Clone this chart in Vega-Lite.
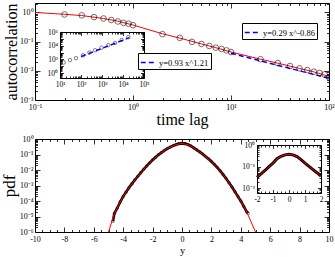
{
"$schema":"https://vega.github.io/schema/vega-lite/v6.json",
"autosize":{"type":"none"},
"padding":{"left":35,"top":3,"right":6,"bottom":25},
"width":294,"height":229,
"datasets":{
"acf":[{"t":0.2,"c":0.85},{"t":0.3,"c":0.79},{"t":0.4,"c":0.69},{"t":0.5,"c":0.62},{"t":0.6,"c":0.55},{"t":0.7,"c":0.49},{"t":0.8,"c":0.44},{"t":0.9,"c":0.41},{"t":1,"c":0.365},{"t":2,"c":0.18},{"t":3,"c":0.134},{"t":4,"c":0.098},{"t":5,"c":0.083},{"t":6,"c":0.071},{"t":7,"c":0.062},{"t":8,"c":0.056},{"t":9,"c":0.05},{"t":10,"c":0.044},{"t":20,"c":0.025},{"t":30,"c":0.0184},{"t":40,"c":0.0146},{"t":50,"c":0.0121},{"t":60,"c":0.0106},{"t":70,"c":0.0093},{"t":80,"c":0.0084},{"t":90,"c":0.0075},{"t":100,"c":0.006}],
"model":[{"t":0.1,"c":1.0},{"t":0.2,"c":0.86},{"t":0.3,"c":0.78},{"t":0.5,"c":0.62},{"t":0.7,"c":0.5},{"t":1,"c":0.37},{"t":2,"c":0.185},{"t":3,"c":0.132},{"t":5,"c":0.083},{"t":7,"c":0.062},{"t":10,"c":0.044},{"t":20,"c":0.025},{"t":30,"c":0.0183},{"t":50,"c":0.012},{"t":70,"c":0.0092},{"t":100,"c":0.0064}],
"fit1":[{"t":10,"c":0.04,"fit":"y=0.29 x^-0.86"},{"t":100,"c":0.0055,"fit":"y=0.29 x^-0.86"}],
"ins":[{"t":15,"c":35},{"t":30,"c":80},{"t":58,"c":150},{"t":125,"c":400},{"t":250,"c":1000},{"t":470,"c":2200},{"t":950,"c":5000},{"t":2000,"c":12000},{"t":4200,"c":25000},{"t":8700,"c":70000},{"t":18000,"c":180000}],
"fit2":[{"t":100,"c":250,"fit":"y=0.93 x^1.21"},{"t":20000,"c":150000,"fit":"y=0.93 x^1.21"}],
"pdfPts":[{"s":-4.7,"p":5e-6},{"s":-4.6,"p":1.58e-5},{"s":-4.4,"p":3.55e-5},{"s":-4.2,"p":8.9e-5},{"s":-4.0,"p":2.0e-4},{"s":-3.8,"p":3.8e-4},{"s":-3.6,"p":7.4e-4},{"s":-3.4,"p":1.32e-3},{"s":-3.2,"p":2.34e-3},{"s":-3.0,"p":3.98e-3},{"s":-2.8,"p":6.76e-3},{"s":-2.6,"p":0.0112},{"s":-2.4,"p":0.0182},{"s":-2.2,"p":0.0288},{"s":-2.0,"p":0.0447},{"s":-1.8,"p":0.066},{"s":-1.6,"p":0.0955},{"s":-1.4,"p":0.132},{"s":-1.2,"p":0.182},{"s":-1.0,"p":0.24},{"s":-0.8,"p":0.302},{"s":-0.6,"p":0.372},{"s":-0.4,"p":0.437},{"s":-0.2,"p":0.501},{"s":0,"p":0.525},{"s":0.2,"p":0.501},{"s":0.4,"p":0.437},{"s":0.6,"p":0.355},{"s":0.8,"p":0.269},{"s":1.0,"p":0.2},{"s":1.2,"p":0.148},{"s":1.4,"p":0.107},{"s":1.6,"p":0.0741},{"s":1.8,"p":0.0525},{"s":2.0,"p":0.0355},{"s":2.2,"p":0.0229},{"s":2.4,"p":0.0145},{"s":2.6,"p":0.0087},{"s":2.8,"p":0.005},{"s":3.0,"p":2.82e-3},{"s":3.2,"p":1.51e-3},{"s":3.4,"p":7.9e-4},{"s":3.6,"p":3.98e-4},{"s":3.8,"p":2.0e-4},{"s":4.0,"p":1.0e-4},{"s":4.2,"p":4.5e-5},{"s":4.4,"p":2.0e-5},{"s":4.5,"p":1.6e-5}],
"pdfRed":[{"s":-5.0,"p":1e-6},{"s":-4.6,"p":1.58e-5},{"s":-4.0,"p":2.0e-4},{"s":-3.5,"p":1.02e-3},{"s":-3.0,"p":3.98e-3},{"s":-2.5,"p":0.0141},{"s":-2.0,"p":0.0447},{"s":-1.5,"p":0.112},{"s":-1.0,"p":0.24},{"s":-0.5,"p":0.403},{"s":0,"p":0.525},{"s":0.5,"p":0.398},{"s":1.0,"p":0.2},{"s":1.5,"p":0.089},{"s":2.0,"p":0.0355},{"s":2.5,"p":0.0112},{"s":3.0,"p":2.82e-3},{"s":3.5,"p":5.6e-4},{"s":4.0,"p":1.0e-4},{"s":4.4,"p":2.0e-5},{"s":5.0,"p":1e-6}],
"insPdf":[{"s":-2,"p":0.032},{"s":-1.75,"p":0.046},{"s":-1.5,"p":0.066},{"s":-1.25,"p":0.1},{"s":-1.0,"p":0.145},{"s":-0.75,"p":0.23},{"s":-0.5,"p":0.3},{"s":-0.25,"p":0.35},{"s":0,"p":0.37},{"s":0.25,"p":0.35},{"s":0.5,"p":0.29},{"s":0.75,"p":0.21},{"s":1.0,"p":0.145},{"s":1.25,"p":0.103},{"s":1.5,"p":0.073},{"s":1.75,"p":0.052},{"s":2,"p":0.036}]
},
"resolve":{"scale":{"x":"independent","y":"independent","color":"independent"}},
"layer":[
{"data":{"name":"model"},"mark":{"type":"line","color":"#ff0000","strokeWidth":1,"clip":true},
 "encoding":{
  "x":{"field":"t","type":"quantitative","scale":{"type":"log","domain":[0.1,100],"nice":false},
   "axis":{"orient":"bottom","offset":-132,"title":"time lag","titleFontSize":16,"titlePadding":-2,"values":[0.1,0.2,0.3,0.4,0.5,0.6,0.7,0.8,0.9,1,2,3,4,5,6,7,8,9,10,20,30,40,50,60,70,80,90,100],
    "tickSize":{"condition":{"test":"abs(log(datum.value)/LN10 - round(log(datum.value)/LN10)) < 0.001","value":-5},"value":-2.5},
    "labelPadding":8,
    "labelExpr":"abs(log(datum.value)/LN10 - round(log(datum.value)/LN10)) < 0.001 ? '10' + (round(log(datum.value)/LN10) < 0 ? '⁻' : '') + ['⁰','¹','²','³','⁴','⁵','⁶','⁷','⁸','⁹'][abs(round(log(datum.value)/LN10))] : ''"}},
  "y":{"field":"c","type":"quantitative","scale":{"type":"log","domain":[0.001,2.1],"nice":false,"range":[97,0]},
   "axis":{"orient":"left","title":"autocorrelation","titleFontSize":16,"titlePadding":0,"values":[0.001,0.002,0.003,0.004,0.005,0.006,0.007,0.008,0.009,0.01,0.02,0.03,0.04,0.05,0.06,0.07,0.08,0.09,0.1,0.2,0.3,0.4,0.5,0.6,0.7,0.8,0.9,1,2],
    "tickSize":{"condition":{"test":"abs(log(datum.value)/LN10 - round(log(datum.value)/LN10)) < 0.001","value":-5},"value":-2.5},
    "labelPadding":7,
    "labelExpr":"abs(log(datum.value)/LN10 - round(log(datum.value)/LN10)) < 0.001 ? '10' + (round(log(datum.value)/LN10) < 0 ? '⁻' : '') + ['⁰','¹','²','³','⁴','⁵','⁶','⁷','⁸','⁹'][abs(round(log(datum.value)/LN10))] : ''"}}}},
{"data":{"name":"fit1"},"mark":{"type":"line","strokeDash":[5,3],"strokeWidth":1.5,"clip":true},
 "encoding":{
  "x":{"field":"t","type":"quantitative","scale":{"type":"log","domain":[0.1,100],"nice":false},"axis":null},
  "y":{"field":"c","type":"quantitative","scale":{"type":"log","domain":[0.001,2.1],"nice":false,"range":[97,0]},"axis":null},
  "color":{"field":"fit","type":"nominal","scale":{"range":["#0000ff"]},
   "legend":{"orient":"none","legendX":207,"legendY":20,"title":null,"strokeColor":"black","fillColor":"white","padding":2,"symbolType":"stroke","symbolStrokeWidth":1.5,"symbolDash":[5,3],"symbolSize":180,"labelFont":"Liberation Serif","labelFontSize":8.5,"labelColor":"black","cornerRadius":0}}}},
{"data":{"name":"acf"},"mark":{"type":"point","shape":"circle","size":32,"color":"black","strokeWidth":0.8,"filled":false,"clip":true},
 "encoding":{
  "x":{"field":"t","type":"quantitative","scale":{"type":"log","domain":[0.1,100],"nice":false},
   "axis":{"orient":"top","labels":false,"title":null,"values":[0.1,0.2,0.3,0.4,0.5,0.6,0.7,0.8,0.9,1,2,3,4,5,6,7,8,9,10,20,30,40,50,60,70,80,90,100],
    "tickSize":{"condition":{"test":"abs(log(datum.value)/LN10 - round(log(datum.value)/LN10)) < 0.001","value":-5},"value":-2.5}}},
  "y":{"field":"c","type":"quantitative","scale":{"type":"log","domain":[0.001,2.1],"nice":false,"range":[97,0]},
   "axis":{"orient":"right","labels":false,"title":null,"values":[0.001,0.002,0.003,0.004,0.005,0.006,0.007,0.008,0.009,0.01,0.02,0.03,0.04,0.05,0.06,0.07,0.08,0.09,0.1,0.2,0.3,0.4,0.5,0.6,0.7,0.8,0.9,1,2],
    "tickSize":{"condition":{"test":"abs(log(datum.value)/LN10 - round(log(datum.value)/LN10)) < 0.001","value":-5},"value":-2.5}}}}},
{"data":{"name":"ins"},"mark":{"type":"point","shape":"circle","size":12,"color":"black","strokeWidth":0.7,"filled":false},
 "encoding":{
  "x":{"field":"t","type":"quantitative","scale":{"type":"log","domain":[10,100000],"nice":false,"range":[25,109]},
   "axis":{"orient":"bottom","offset":-154,"title":null,"labelFontSize":7.5,"values":[10,20,30,40,50,60,70,80,90,100,200,300,400,500,600,700,800,900,1000,2000,3000,4000,5000,6000,7000,8000,9000,10000,20000,30000,40000,50000,60000,70000,80000,90000,100000],
    "tickSize":{"condition":{"test":"abs(log(datum.value)/LN10 - round(log(datum.value)/LN10)) < 0.001","value":-3.5},"value":-2},
    "labelPadding":6,
    "labelExpr":"abs(log(datum.value)/LN10 - round(log(datum.value)/LN10)) < 0.001 ? '10' + (round(log(datum.value)/LN10) < 0 ? '⁻' : '') + ['⁰','¹','²','³','⁴','⁵','⁶','⁷','⁸','⁹'][abs(round(log(datum.value)/LN10))] : ''"}},
  "y":{"field":"c","type":"quantitative","scale":{"type":"log","domain":[0.19,1000000],"nice":false,"range":[75,29]},
   "axis":{"orient":"left","offset":-25,"title":null,"labelFontSize":7.5,"values":[0.2,0.3,0.4,0.5,0.6,0.7,0.8,0.9,1,2,3,4,5,6,7,8,9,10,20,30,40,50,60,70,80,90,100,200,300,400,500,600,700,800,900,1000,2000,3000,4000,5000,6000,7000,8000,9000,10000,20000,30000,40000,50000,60000,70000,80000,90000,100000,200000,300000,400000,500000,600000,700000,800000,900000,1000000],
    "tickSize":{"condition":{"test":"abs(log(datum.value)/LN10 - round(log(datum.value)/LN10)) < 0.001","value":-3.5},"value":-2},
    "labelPadding":6,
    "labelExpr":"abs(log(datum.value)/LN10 - round(log(datum.value)/LN10)) < 0.001 && round(log(datum.value)/LN10) % 2 == 0 ? '10' + ['⁰','¹','²','³','⁴','⁵','⁶','⁷','⁸','⁹'][abs(round(log(datum.value)/LN10))] : ''"}}}},
{"data":{"name":"fit2"},"mark":{"type":"line","strokeDash":[5,3],"strokeWidth":1.5},
 "encoding":{
  "x":{"field":"t","type":"quantitative","scale":{"type":"log","domain":[10,100000],"nice":false,"range":[25,109]},
   "axis":{"orient":"top","offset":-29,"title":null,"labels":false,"values":[10,20,30,40,50,60,70,80,90,100,200,300,400,500,600,700,800,900,1000,2000,3000,4000,5000,6000,7000,8000,9000,10000,20000,30000,40000,50000,60000,70000,80000,90000,100000],
    "tickSize":{"condition":{"test":"abs(log(datum.value)/LN10 - round(log(datum.value)/LN10)) < 0.001","value":-3.5},"value":-2}}},
  "y":{"field":"c","type":"quantitative","scale":{"type":"log","domain":[0.19,1000000],"nice":false,"range":[75,29]},
   "axis":{"orient":"right","offset":-185,"title":null,"labels":false,"values":[0.2,0.3,0.4,0.5,0.6,0.7,0.8,0.9,1,2,3,4,5,6,7,8,9,10,20,30,40,50,60,70,80,90,100,200,300,400,500,600,700,800,900,1000,2000,3000,4000,5000,6000,7000,8000,9000,10000,20000,30000,40000,50000,60000,70000,80000,90000,100000,200000,300000,400000,500000,600000,700000,800000,900000,1000000],
    "tickSize":{"condition":{"test":"abs(log(datum.value)/LN10 - round(log(datum.value)/LN10)) < 0.001","value":-3.5},"value":-2}}},
  "color":{"field":"fit","type":"nominal","scale":{"range":["#0000ff"]},
   "legend":{"orient":"none","legendX":103,"legendY":50,"title":null,"strokeColor":"black","fillColor":"white","padding":2,"symbolType":"stroke","symbolStrokeWidth":1.5,"symbolDash":[5,3],"symbolSize":180,"labelFont":"Liberation Serif","labelFontSize":8.5,"labelColor":"black","cornerRadius":0}}}},
{"data":{"name":"pdfPts"},"mark":{"type":"line","color":"black","strokeWidth":2.6,"clip":true},
 "encoding":{
  "x":{"field":"s","type":"quantitative","scale":{"domain":[-10,10],"nice":false,"zero":false},
   "axis":{"orient":"bottom","title":"y","titleFontSize":10.5,"titlePadding":-0.5,"values":[-10,-9.5,-9,-8.5,-8,-7.5,-7,-6.5,-6,-5.5,-5,-4.5,-4,-3.5,-3,-2.5,-2,-1.5,-1,-0.5,0,0.5,1,1.5,2,2.5,3,3.5,4,4.5,5,5.5,6,6.5,7,7.5,8,8.5,9,9.5,10],
    "tickSize":{"condition":{"test":"abs(datum.value/2 - round(datum.value/2)) < 0.001","value":-5},"value":-2.5},
    "labelPadding":8,
    "labelExpr":"abs(datum.value/2 - round(datum.value/2)) < 0.001 ? '' + datum.value : ''"}},
  "y":{"field":"p","type":"quantitative","scale":{"type":"log","domain":[0.000001,1],"nice":false,"range":[229,136]},
   "axis":{"orient":"left","title":"pdf","titleFontSize":17,"titlePadding":1,"values":[1e-6,2e-6,3e-6,4e-6,5e-6,6e-6,7e-6,8e-6,9e-6,1e-5,2e-5,3e-5,4e-5,5e-5,6e-5,7e-5,8e-5,9e-5,1e-4,2e-4,3e-4,4e-4,5e-4,6e-4,7e-4,8e-4,9e-4,0.001,0.002,0.003,0.004,0.005,0.006,0.007,0.008,0.009,0.01,0.02,0.03,0.04,0.05,0.06,0.07,0.08,0.09,0.1,0.2,0.3,0.4,0.5,0.6,0.7,0.8,0.9,1],
    "tickSize":{"condition":{"test":"abs(log(datum.value)/LN10 - round(log(datum.value)/LN10)) < 0.001","value":-5},"value":-2.5},
    "labelPadding":7,
    "labelExpr":"abs(log(datum.value)/LN10 - round(log(datum.value)/LN10)) < 0.001 ? '10' + (round(log(datum.value)/LN10) < 0 ? '⁻' : '') + ['⁰','¹','²','³','⁴','⁵','⁶','⁷','⁸','⁹'][abs(round(log(datum.value)/LN10))] : ''"}}}},
{"data":{"name":"pdfPts"},"mark":{"type":"point","shape":"circle","size":8,"color":"black","strokeWidth":0.6,"filled":false,"clip":true},
 "encoding":{
  "x":{"field":"s","type":"quantitative","scale":{"domain":[-10,10],"nice":false,"zero":false},
   "axis":{"orient":"top","offset":-136,"labels":false,"title":null,"values":[-10,-9.5,-9,-8.5,-8,-7.5,-7,-6.5,-6,-5.5,-5,-4.5,-4,-3.5,-3,-2.5,-2,-1.5,-1,-0.5,0,0.5,1,1.5,2,2.5,3,3.5,4,4.5,5,5.5,6,6.5,7,7.5,8,8.5,9,9.5,10],
    "tickSize":{"condition":{"test":"abs(datum.value/2 - round(datum.value/2)) < 0.001","value":-5},"value":-2.5}}},
  "y":{"field":"p","type":"quantitative","scale":{"type":"log","domain":[0.000001,1],"nice":false,"range":[229,136]},
   "axis":{"orient":"right","labels":false,"title":null,"values":[1e-6,2e-6,3e-6,4e-6,5e-6,6e-6,7e-6,8e-6,9e-6,1e-5,2e-5,3e-5,4e-5,5e-5,6e-5,7e-5,8e-5,9e-5,1e-4,2e-4,3e-4,4e-4,5e-4,6e-4,7e-4,8e-4,9e-4,0.001,0.002,0.003,0.004,0.005,0.006,0.007,0.008,0.009,0.01,0.02,0.03,0.04,0.05,0.06,0.07,0.08,0.09,0.1,0.2,0.3,0.4,0.5,0.6,0.7,0.8,0.9,1],
    "tickSize":{"condition":{"test":"abs(log(datum.value)/LN10 - round(log(datum.value)/LN10)) < 0.001","value":-5},"value":-2.5}}}}},
{"data":{"name":"pdfRed"},"mark":{"type":"line","color":"#ff0000","strokeWidth":1,"clip":true},
 "encoding":{
  "x":{"field":"s","type":"quantitative","scale":{"domain":[-10,10],"nice":false,"zero":false},"axis":null},
  "y":{"field":"p","type":"quantitative","scale":{"type":"log","domain":[0.000001,1],"nice":false,"range":[229,136]},"axis":null}}},
{"data":{"name":"insPdf"},"mark":{"type":"line","color":"black","strokeWidth":3},
 "encoding":{
  "x":{"field":"s","type":"quantitative","scale":{"domain":[-2,2],"nice":false,"zero":false,"range":[222,286]},
   "axis":{"orient":"bottom","offset":-39,"title":null,"labelFontSize":7.5,"values":[-2,-1.75,-1.5,-1.25,-1,-0.75,-0.5,-0.25,0,0.25,0.5,0.75,1,1.25,1.5,1.75,2],
    "tickSize":{"condition":{"test":"abs(datum.value - round(datum.value)) < 0.001","value":-3.5},"value":-2},
    "labelPadding":6,
    "labelExpr":"abs(datum.value - round(datum.value)) < 0.001 ? '' + datum.value : ''"}},
  "y":{"field":"p","type":"quantitative","scale":{"type":"log","domain":[0.006,1],"nice":false,"range":[190,142]},
   "axis":{"orient":"left","offset":-222,"title":null,"labelFontSize":7.5,"values":[0.006,0.007,0.008,0.009,0.01,0.02,0.03,0.04,0.05,0.06,0.07,0.08,0.09,0.1,0.2,0.3,0.4,0.5,0.6,0.7,0.8,0.9,1],
    "tickSize":{"condition":{"test":"abs(log(datum.value)/LN10 - round(log(datum.value)/LN10)) < 0.001","value":-3.5},"value":-2},
    "labelPadding":6,
    "labelExpr":"abs(log(datum.value)/LN10 - round(log(datum.value)/LN10)) < 0.001 ? '10' + (round(log(datum.value)/LN10) < 0 ? '⁻' : '') + ['⁰','¹','²','³','⁴','⁵','⁶','⁷','⁸','⁹'][abs(round(log(datum.value)/LN10))] : ''"}}}},
{"data":{"name":"insPdf"},"mark":{"type":"line","color":"#ff0000","strokeWidth":1},
 "encoding":{
  "x":{"field":"s","type":"quantitative","scale":{"domain":[-2,2],"nice":false,"zero":false,"range":[222,286]},
   "axis":{"orient":"top","offset":-142,"title":null,"labels":false,"values":[-2,-1.75,-1.5,-1.25,-1,-0.75,-0.5,-0.25,0,0.25,0.5,0.75,1,1.25,1.5,1.75,2],
    "tickSize":{"condition":{"test":"abs(datum.value - round(datum.value)) < 0.001","value":-3.5},"value":-2}}},
  "y":{"field":"p","type":"quantitative","scale":{"type":"log","domain":[0.006,1],"nice":false,"range":[190,142]},
   "axis":{"orient":"right","offset":-8,"title":null,"labels":false,"values":[0.006,0.007,0.008,0.009,0.01,0.02,0.03,0.04,0.05,0.06,0.07,0.08,0.09,0.1,0.2,0.3,0.4,0.5,0.6,0.7,0.8,0.9,1],
    "tickSize":{"condition":{"test":"abs(log(datum.value)/LN10 - round(log(datum.value)/LN10)) < 0.001","value":-3.5},"value":-2}}}}}
],
"config":{
 "view":{"stroke":null},
 "axis":{"labelFont":"Liberation Serif","titleFont":"Liberation Serif","labelFontSize":8,"labelColor":"black","titleColor":"black","titleFontWeight":"normal","domainColor":"black","tickColor":"black","grid":false,"labelOverlap":false,"labelFlush":false,"labelBound":false,"tickWidth":0.8,"domainWidth":1}
}
}
